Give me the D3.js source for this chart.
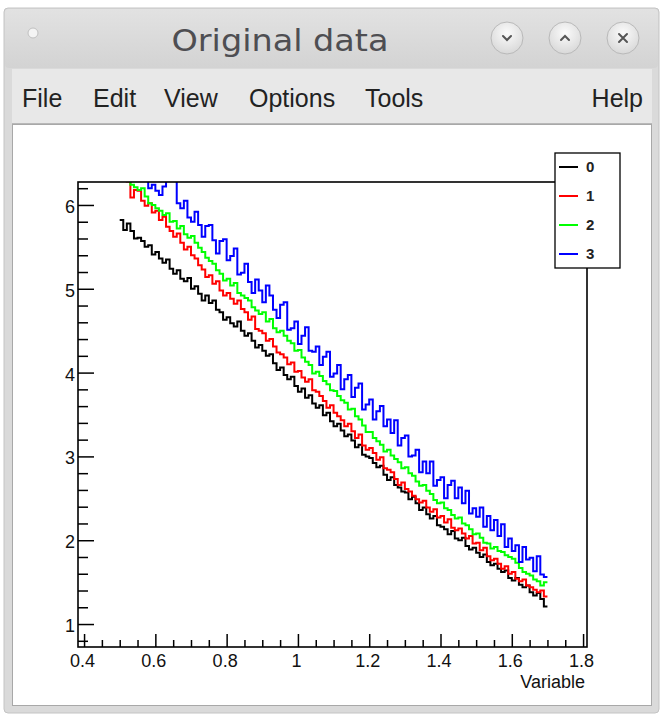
<!DOCTYPE html>
<html><head><meta charset="utf-8">
<script src="https://cdn.jsdelivr.net/npm/d3@7"></script>
<style>body{margin:0;background:#fff}svg{display:block}</style>
</head><body><svg id="c" width="663" height="717"></svg>
<script>
// ---------- data ----------
const seriesNames = ["0", "1", "2", "3"];
const seriesColors = ["#000000", "#ff0000", "#00ff00", "#0000ff"];
const binStart = 0.5;   // histogram low edge
const binWidth = 0.01;  // histogram bin width (120 bins up to 1.7)

const series0 = [
 5.82,5.70,5.78,5.69,5.60, 5.61,5.57,5.50,5.52,5.41, 5.44,5.36,5.31,5.35,5.24, 5.18,5.22,5.12,5.09,5.13,
 5.00,5.03,4.94,4.86,4.92, 4.83,4.86,4.75,4.72,4.63, 4.66,4.59,4.55,4.61,4.50, 4.44,4.47,4.38,4.30,4.33,
 4.26,4.20,4.22,4.11,4.03, 4.06,3.97,3.92,3.95,3.84, 3.77,3.81,3.70,3.73,3.63, 3.58,3.61,3.49,3.52,3.42,
 3.36,3.39,3.31,3.24,3.26, 3.19,3.11,3.14,3.02,3.00, 2.98,2.92,2.87,2.89,2.78, 2.72,2.75,2.66,2.63,2.58,
 2.57,2.49,2.52,2.44,2.36, 2.39,2.31,2.26,2.29,2.18, 2.16,2.13,2.07,2.11,2.02, 2.00,2.03,1.93,1.89,1.91,
 1.85,1.80,1.83,1.74,1.70, 1.72,1.66,1.62,1.64,1.55, 1.52,1.55,1.47,1.44,1.46, 1.38,1.34,1.37,1.30,1.21
];
const series1 = [
 6.60,6.44,6.28,6.09,6.18, 6.17,6.05,5.99,6.02,5.91, 5.93,5.82,5.86,5.74,5.69, 5.62,5.66,5.55,5.47,5.50,
 5.40,5.36,5.28,5.23,5.14, 5.16,5.06,5.09,4.98,4.92, 4.95,4.88,4.82,4.86,4.76, 4.72,4.63,4.67,4.52,4.50,
 4.47,4.38,4.40,4.31,4.24, 4.22,4.18,4.10,4.12,4.01, 4.02,3.94,3.89,3.92,3.79, 3.77,3.72,3.66,3.58,3.61,
 3.52,3.48,3.43,3.36,3.39, 3.30,3.22,3.26,3.13,3.08, 3.10,3.04,2.96,2.99,2.86, 2.84,2.81,2.73,2.66,2.69,
 2.61,2.58,2.53,2.49,2.45, 2.47,2.39,2.34,2.37,2.27, 2.29,2.21,2.25,2.15,2.12, 2.14,2.08,2.02,2.05,1.96,
 1.97,1.88,1.91,1.81,1.76, 1.78,1.72,1.66,1.69,1.60, 1.62,1.54,1.51,1.53,1.46, 1.44,1.41,1.38,1.40,1.33
];
const series2 = [
 6.58,6.47,6.35,6.24,6.21, 6.18,6.20,6.10,6.02,6.00, 5.96,5.93,5.88,5.90,5.80, 5.81,5.72,5.75,5.65,5.61,
 5.63,5.55,5.49,5.44,5.37, 5.33,5.30,5.22,5.18,5.10, 5.12,5.04,5.07,4.95,4.92, 4.89,4.86,4.78,4.74,4.70,
 4.72,4.61,4.64,4.53,4.48, 4.50,4.44,4.38,4.35,4.26, 4.27,4.18,4.13,4.09,3.99, 4.01,3.96,3.90,3.86,3.79,
 3.78,3.72,3.67,3.64,3.56, 3.57,3.48,3.44,3.37,3.29, 3.29,3.22,3.18,3.14,3.06, 3.08,3.01,2.97,2.93,2.86,
 2.87,2.80,2.77,2.70,2.65, 2.66,2.59,2.55,2.48,2.44, 2.45,2.38,2.36,2.30,2.26, 2.27,2.20,2.18,2.13,2.07,
 2.08,2.03,1.97,1.96,1.90, 1.92,1.87,1.86,1.82,1.80, 1.78,1.73,1.67,1.62,1.60, 1.58,1.53,1.51,1.46,1.50
];
const series3 = [
 7.12,6.93,7.07,6.91,6.73, 6.73,6.86,6.55,6.20,6.24, 6.17,6.12,6.22,6.30,6.36, 6.30,6.02,5.96,6.05,5.85,
 5.80,5.92,5.76,5.62,5.75, 5.76,5.58,5.42,5.57,5.59, 5.34,5.39,5.48,5.17,5.19, 5.30,5.08,4.95,5.11,4.98,
 4.84,5.04,4.92,4.75,4.65, 4.81,4.84,4.51,4.53,4.61, 4.34,4.44,4.54,4.26,4.25, 4.31,4.09,4.19,4.25,3.95,
 3.99,4.09,3.80,3.92,3.97, 3.71,3.82,3.87,3.56,3.62, 3.68,3.44,3.54,3.60,3.36, 3.44,3.28,3.43,3.13,3.22,
 3.25,3.00,3.01,3.08,2.81, 2.94,2.80,2.94,2.65,2.72, 2.75,2.50,2.66,2.71,2.50, 2.63,2.44,2.59,2.32,2.38,
 2.28,2.39,2.16,2.29,2.12, 2.24,2.05,2.19,1.92,2.02, 1.87,1.94,1.74,1.92,1.77, 1.79,1.63,1.81,1.59,1.56
];
const allSeries = [series0, series1, series2, series3];

const xMajorTicks = [0.4, 0.6, 0.8, 1.0, 1.2, 1.4, 1.6, 1.8];
const xTickLabels = ["0.4", "0.6", "0.8", "1", "1.2", "1.4", "1.6", "1.8"];
const yMajorTicks = [1, 2, 3, 4, 5, 6];
const yTickLabels = ["1", "2", "3", "4", "5", "6"];
const xAxisTitle = "Variable";
const windowTitle = "Original data";
const menuLeft = ["File", "Edit", "View", "Options", "Tools"];
const menuRight = "Help";

// ---------- drawing ----------
const svg = d3.select("#c");
const defs = svg.append("defs");

// window chrome
const tg = defs.append("linearGradient").attr("id","tb").attr("x1",0).attr("y1",0).attr("x2",0).attr("y2",1);
tg.append("stop").attr("offset","0").attr("stop-color","#e2e2e2");
tg.append("stop").attr("offset","1").attr("stop-color","#d3d3d3");
const bg = defs.append("radialGradient").attr("id","btn").attr("cx","0.5").attr("cy","0.35").attr("r","0.65");
bg.append("stop").attr("offset","0").attr("stop-color","#fbfbfb");
bg.append("stop").attr("offset","1").attr("stop-color","#d8d8d8");

svg.append("rect").attr("x",4).attr("y",8).attr("width",655).attr("height",705)
  .attr("rx",4).attr("fill","#dadada").attr("stroke","#c4c4c4");
svg.append("rect").attr("x",5).attr("y",9).attr("width",653).attr("height",59).attr("rx",4).attr("fill","url(#tb)");
svg.append("rect").attr("x",12).attr("y",69).attr("width",640).attr("height",54).attr("fill","#e8e8e8");
svg.append("line").attr("x1",12).attr("x2",652).attr("y1",123.5).attr("y2",123.5).attr("stroke","#b8b8b8");
svg.append("rect").attr("x",12.5).attr("y",124.5).attr("width",639).attr("height",581).attr("fill","#ffffff").attr("stroke","#a8a8a8");

svg.append("circle").attr("cx",33).attr("cy",33).attr("r",5).attr("fill","#f4f4f4").attr("stroke","#c0c0c0");
svg.append("text").attr("x",280).attr("y",51).attr("text-anchor","middle")
  .attr("font-family","DejaVu Sans").attr("font-size",31).attr("fill","#4e4e52")
  .attr("textLength",217).attr("lengthAdjust","spacingAndGlyphs").text(windowTitle);

const btnX = [507, 565, 623];
btnX.forEach((cx, i) => {
  svg.append("circle").attr("cx",cx).attr("cy",38).attr("r",16).attr("fill","url(#btn)").attr("stroke","#b9b9b9");
  const g = svg.append("g").attr("transform",`translate(${cx},38)`).attr("stroke","#555").attr("stroke-width",2).attr("fill","none").attr("stroke-linecap","round");
  if (i === 0) g.append("path").attr("d","M-4,-2 L0,2 L4,-2");
  if (i === 1) g.append("path").attr("d","M-4,2 L0,-2 L4,2");
  if (i === 2) g.append("path").attr("d","M-4,-4 L4,4 M4,-4 L-4,4");
});

const menuX = [22, 93, 164, 249, 365];
menuLeft.forEach((m, i) => {
  svg.append("text").attr("x",menuX[i]).attr("y",107).attr("font-family","Liberation Sans")
    .attr("font-size",25).attr("fill","#222").text(m);
});
svg.append("text").attr("x",643).attr("y",107).attr("text-anchor","end").attr("font-family","Liberation Sans")
  .attr("font-size",25).attr("fill","#222").text(menuRight);

// plot frame
const L = 78, R = 587, T = 182, B = 647;
const x = d3.scaleLinear().domain([0.383, 1.811]).range([L, R]);
const y = d3.scaleLinear().domain([0.726, 6.274]).range([B, T]);

defs.append("clipPath").attr("id","frame").append("rect")
  .attr("x",L).attr("y",T).attr("width",R-L).attr("height",B-T);

// histograms
const line = d3.line().x(d => x(d[0])).y(d => y(d[1])).curve(d3.curveStepAfter);
const plot = svg.append("g").attr("clip-path","url(#frame)");
allSeries.forEach((vals, k) => {
  const pts = vals.map((v, i) => [binStart + i * binWidth, v]);
  pts.push([binStart + vals.length * binWidth, vals[vals.length - 1]]);
  plot.append("path").attr("d", line(pts)).attr("fill","none")
    .attr("stroke", seriesColors[k]).attr("stroke-width",2);
});

// frame box
svg.append("rect").attr("x",L).attr("y",T).attr("width",R-L).attr("height",B-T)
  .attr("fill","none").attr("stroke","#000").attr("stroke-width",1.6);

// axes
const tickFont = "Liberation Sans";
const xMinor = d3.range(0.4, 1.8001, 0.05).filter(v => Math.abs(v*5 - Math.round(v*5)) > 1e-6);
const xAxisMaj = d3.axisBottom(x).tickValues(xMajorTicks).tickSize(-13).tickPadding(7)
  .tickFormat((d, i) => xTickLabels[i]);
const gx = svg.append("g").attr("transform",`translate(0,${B})`).call(xAxisMaj);
svg.append("g").attr("transform",`translate(0,${B})`)
  .call(d3.axisBottom(x).tickValues(xMinor).tickSize(-7).tickFormat(""));

const yMinor = d3.range(0.8, 6.2001, 0.2).filter(v => Math.abs(v - Math.round(v)) > 1e-6);
const yAxisMaj = d3.axisLeft(y).tickValues(yMajorTicks).tickSize(-16).tickPadding(3)
  .tickFormat((d, i) => yTickLabels[i]);
const gy = svg.append("g").attr("transform",`translate(${L},0)`).call(yAxisMaj);
svg.append("g").attr("transform",`translate(${L},0)`)
  .call(d3.axisLeft(y).tickValues(yMinor).tickSize(-10).tickFormat(""));

svg.selectAll(".domain").remove();
svg.selectAll(".tick line").attr("stroke","#000").attr("stroke-width",1.5);
gx.selectAll("text").attr("font-family",tickFont).attr("font-size",18).attr("fill","#111").attr("dx",-2);
gy.selectAll("text").attr("font-family",tickFont).attr("font-size",18).attr("fill","#111").attr("dy","0.42em");

svg.append("text").attr("x",585).attr("y",688).attr("text-anchor","end")
  .attr("font-family",tickFont).attr("font-size",18).attr("fill","#111").text(xAxisTitle);

// legend
const lg = svg.append("g");
lg.append("rect").attr("x",555).attr("y",153).attr("width",65).attr("height",115)
  .attr("fill","#fff").attr("stroke","#000").attr("stroke-width",1.3);
const legY = [167, 196, 225, 254];
seriesNames.forEach((n, i) => {
  lg.append("line").attr("x1",559).attr("x2",578).attr("y1",legY[i]).attr("y2",legY[i])
    .attr("stroke",seriesColors[i]).attr("stroke-width",2);
  lg.append("text").attr("x",586).attr("y",legY[i]).attr("dy","0.36em")
    .attr("font-family",tickFont).attr("font-size",15).attr("font-weight","bold").attr("fill","#222").text(n);
});
</script>
</body></html>
